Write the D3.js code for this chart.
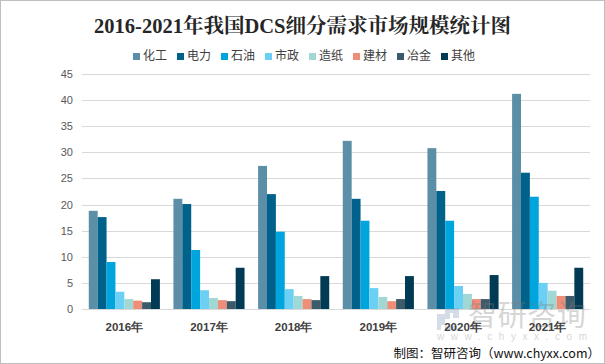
<!DOCTYPE html>
<html>
<head>
<meta charset="utf-8">
<script src="https://cdn.jsdelivr.net/npm/d3@7"></script>
<style>
  body { margin: 0; background: #fff; }
  svg { display: block; font-family: "Noto Sans CJK SC", "Microsoft YaHei", sans-serif; }
</style>
</head>
<body>
<div id="box1"><svg id="box1_svg"></svg></div>
<script>
"use strict";

// data
const years = ['2016年', '2017年', '2018年', '2019年', '2020年', '2021年'];
const sectors = ['化工', '电力', '石油', '市政', '造纸', '建材', '冶金', '其他'];
const huagong = [18.8, 21.1, 27.4, 32.2, 30.8, 41.2];
const dianli  = [17.6, 20.1, 22.0, 21.1, 22.6, 26.1];
const shiyou  = [9.0, 11.3, 14.8, 16.9, 16.9, 21.5];
const shizheng = [3.3, 3.6, 3.8, 4.0, 4.4, 5.0];
const zaozhi  = [1.9, 2.1, 2.5, 2.3, 2.9, 3.5];
const jiancai = [1.6, 1.7, 1.9, 1.5, 1.9, 2.5];
const yejin   = [1.3, 1.5, 1.7, 1.9, 1.9, 2.5];
const qita    = [5.7, 7.9, 6.3, 6.3, 6.5, 7.9];
const y_ticks = [0, 5, 10, 15, 20, 25, 30, 35, 40, 45];

const series = [huagong, dianli, shiyou, shizheng, zaozhi, jiancai, yejin, qita];
const colors = ['#5b8fa8', '#00628b', '#00a5de', '#6cd0f5', '#a0d8d6', '#ee8e78', '#3b5a6a', '#003a54'];

const W = 605, H = 364;
const m = { left: 82, right: 15, top: 74, bottom: 55 };

const svg = d3.select('#box1_svg').attr('width', W).attr('height', H);

// border
svg.append('rect')
  .attr('x', 0.5).attr('y', 0.5)
  .attr('width', W - 1).attr('height', H - 1)
  .attr('fill', '#fff').attr('stroke', '#bfbfbf');

const x0 = d3.scaleBand().domain(years).range([m.left, W - m.right]).paddingInner(0.16).paddingOuter(0.08);
const x1 = d3.scaleBand().domain(sectors).range([0, x0.bandwidth()]);
const y = d3.scaleLinear().domain([0, 45]).range([H - m.bottom, m.top]);

// gridlines
svg.append('g')
  .selectAll('line')
  .data(y_ticks)
  .join('line')
  .attr('x1', m.left).attr('x2', W - m.right)
  .attr('y1', d => Math.round(y(d)) + 0.5)
  .attr('y2', d => Math.round(y(d)) + 0.5)
  .attr('stroke', '#d9d9d9');

// y axis labels
const yAxis = d3.axisLeft(y).tickValues(y_ticks).tickSize(0).tickPadding(0);
svg.append('g')
  .attr('transform', `translate(${m.left - 9},0)`)
  .call(yAxis)
  .call(g => g.select('.domain').remove())
  .selectAll('text')
  .attr('font-family', 'Liberation Sans, Arial, sans-serif')
  .attr('font-size', 11)
  .attr('fill', '#595959');

// bars
const groups = svg.append('g')
  .selectAll('g')
  .data(years)
  .join('g')
  .attr('transform', d => `translate(${x0(d)},0)`);

groups.selectAll('rect')
  .data((d, i) => sectors.map((s, k) => ({ s, v: series[k][i], k })))
  .join('rect')
  .attr('x', d => x1(d.s))
  .attr('width', x1.bandwidth())
  .attr('y', d => y(d.v))
  .attr('height', d => y(0) - y(d.v))
  .attr('fill', d => colors[d.k]);

// watermark (behind the axis labels)
const wm = svg.append('g').attr('opacity', 0.3);
wm.append('path')
  .attr('d', 'M437,314 h8 v-6 h14 v10 h-6 v-5 h-3 v6 h-5 v6 h-8 z M437,324 h4 v6 h-4 z M445,326 h12 v4 h-12 z')
  .attr('fill', '#6f8fb3');
wm.append('text')
  .text('智研咨询')
  .attr('x', 468).attr('y', 326)
  .attr('font-size', 29)
  .attr('textLength', 118)
  .attr('fill', '#7a7a7a');
wm.append('text')
  .text('www.chyxx.com')
  .attr('x', 437).attr('y', 340)
  .attr('font-family', 'Liberation Sans, Arial, sans-serif')
  .attr('font-size', 10)
  .attr('textLength', 150)
  .attr('fill', '#7a7a7a');

// x axis labels
const xAxis = d3.axisBottom(x0).tickSize(0).tickPadding(0);
svg.append('g')
  .attr('transform', `translate(0,${y(0) + 22})`)
  .call(xAxis)
  .call(g => g.select('.domain').remove())
  .selectAll('text')
  .attr('dy', 0)
  .attr('font-size', 11.5)
  .attr('font-weight', 'bold')
  .attr('fill', '#404040');

// title
svg.append('text')
  .text('2016-2021年我国DCS细分需求市场规模统计图')
  .attr('x', W / 2).attr('y', 33)
  .attr('text-anchor', 'middle')
  .attr('font-family', '"Liberation Serif", "Noto Serif CJK SC", "Noto Sans CJK SC", serif')
  .attr('font-size', 20.5)
  .attr('font-weight', 'bold')
  .attr('fill', '#262626');

// legend
const legend = svg.append('g')
  .selectAll('g')
  .data(sectors)
  .join('g')
  .attr('transform', (d, i) => `translate(${133 + i * 44},57)`);
legend.append('rect')
  .attr('x', 0).attr('y', -4)
  .attr('width', 7).attr('height', 7)
  .attr('fill', (d, i) => colors[i]);
legend.append('text')
  .text(d => d)
  .attr('x', 10).attr('y', 0)
  .attr('dominant-baseline', 'middle')
  .attr('font-size', 12)
  .attr('fill', '#404040');

// source
svg.append('text')
  .text('制图：智研咨询（www.chyxx.com）')
  .attr('x', 600).attr('y', 358)
  .attr('text-anchor', 'end')
  .attr('font-size', 12.5)
  .attr('fill', '#111');
</script>
</body>
</html>
